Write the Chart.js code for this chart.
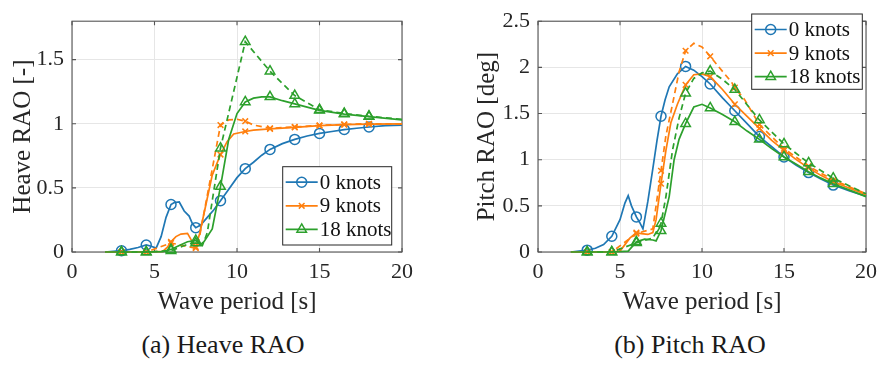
<!DOCTYPE html>
<html>
<head>
<meta charset="utf-8">
<script src="https://cdn.jsdelivr.net/npm/chart.js@4.4.1/dist/chart.umd.min.js"></script>
<style>
body { margin: 0; background: #fff; }
#page { position: relative; width: 884px; height: 365px; font-family: 'Liberation Serif', 'DejaVu Serif', serif; }
#page canvas { position: absolute; top: 0; }
.cap { position: absolute; top: 332px; width: 300px; font-size: 26px; line-height: 26px; text-align: center; color: #1a1a1a; }
</style>
</head>
<body>
<div id="page">
  <canvas id="heaveChart" width="430" height="320" style="left:0"></canvas>
  <canvas id="pitchChart" width="442" height="320" style="left:442px"></canvas>
  <div class="cap" style="left:73px">(a) Heave RAO</div>
  <div class="cap" style="left:540px">(b) Pitch RAO</div>
</div>
<script>
// periods where the markers sit
const markerPeriods = [3, 4.5, 6, 7.5, 9, 10.5, 12, 13.5, 15, 16.5, 18];
const speedLabels = ['0 knots', '9 knots', '18 knots'];
const colors = ['#1f77b4', '#ff7f0e', '#2ca02c'];
const markers = ['circle', 'crossRot', 'triangle'];
const markerSize = [5, 4, 5.5];

const xTicks = [0, 5, 10, 15, 20];
const heaveTicks = [0, 0.5, 1, 1.5];
const pitchTicks = [0, 0.5, 1, 1.5, 2, 2.5];

// heave RAO, solid curves  [period, value]
const heave0 = [[2,0],[3,0.01],[3.5,0.02],[4,0.035],[4.5,0.055],[4.8,0.045],[5.1,0.03],[5.4,0.12],[5.7,0.27],[6,0.37],[6.2,0.385],[6.5,0.39],[6.8,0.32],[7.1,0.28],[7.3,0.22],[7.5,0.19],[7.8,0.21],[8.2,0.27],[8.6,0.33],[9,0.40],[9.5,0.49],[10,0.58],[10.5,0.65],[11,0.70],[11.5,0.755],[12,0.80],[12.75,0.845],[13.5,0.878],[14.25,0.905],[15,0.925],[15.75,0.94],[16.5,0.955],[17.25,0.965],[18,0.975],[19,0.985],[20,0.99]];
const heave9 = [[2,0],[3,0],[4.5,0],[5.5,0.005],[5.8,0.04],[6,0.08],[6.3,0.12],[6.6,0.14],[7,0.145],[7.2,0.1],[7.5,0.04],[7.75,0.15],[8.15,0.39],[8.5,0.6],[9,0.76],[9.4,0.86],[9.8,0.92],[10.5,0.94],[11,0.95],[12,0.96],[13.5,0.972],[15,0.985],[16.5,0.993],[18,0.998],[20,1.0]];
const heave18 = [[2,0],[3,0],[4.5,0],[5.5,0.003],[6,0.02],[6.5,0.05],[7,0.08],[7.5,0.09],[7.8,0.06],[8,0.08],[8.5,0.18],[9,0.51],[9.5,0.88],[10,1.08],[10.5,1.17],[11,1.2],[11.5,1.21],[12,1.21],[12.75,1.18],[13.5,1.155],[14.25,1.13],[15,1.105],[16.5,1.076],[18,1.056],[20,1.03]];
// heave RAO, dashed curves
const heave9b = [[3,0],[4.5,0],[6,0.07],[7.5,0.03],[7.7,0.1],[9,0.99],[9.5,1.03],[10,1.035],[10.5,1.02],[11,0.99],[12,0.965],[13.5,0.975],[15,0.987],[16.5,0.995],[18,1.0],[20,1.0]];
const heave18b = [[3,0],[4.5,0],[6,0.01],[7,0.06],[7.5,0.07],[7.9,0.05],[8.2,0.15],[8.5,0.4],[9,0.81],[10.5,1.64],[12,1.41],[13.5,1.22],[15,1.11],[16.5,1.08],[18,1.058],[20,1.035]];

// pitch RAO, solid curves
const pitch0 = [[2,0],[3,0.02],[3.5,0.04],[4,0.08],[4.5,0.17],[5,0.35],[5.3,0.53],[5.5,0.61],[5.7,0.5],[6,0.38],[6.2,0.32],[6.4,0.25],[6.7,0.55],[7,0.9],[7.25,1.2],[7.5,1.47],[7.75,1.65],[8,1.79],[8.5,1.93],[9,2.01],[9.5,1.97],[10,1.9],[10.5,1.82],[11.25,1.67],[12,1.53],[12.75,1.39],[13.5,1.25],[14.25,1.14],[15,1.03],[15.75,0.94],[16.5,0.86],[17.25,0.79],[18,0.725],[19,0.66],[20,0.605]];
const pitch9 = [[2,0],[3,0],[4.5,0],[5,0.01],[5.3,0.08],[5.6,0.15],[6,0.21],[6.3,0.2],[6.7,0.19],[7,0.21],[7.2,0.35],[7.5,0.74],[7.8,1.1],[8.1,1.4],[8.5,1.6],[9,1.81],[9.5,1.92],[10,1.93],[10.5,1.9],[11.25,1.76],[12,1.6],[12.75,1.47],[13.5,1.34],[14.25,1.21],[15,1.1],[15.75,1.0],[16.5,0.91],[17.25,0.83],[18,0.76],[19,0.69],[20,0.62]];
const pitch18 = [[2,0],[3,0],[4.5,0],[5.5,0.01],[6,0.11],[6.5,0.14],[7,0.13],[7.2,0.12],[7.5,0.23],[7.8,0.45],[8,0.6],[8.3,1.0],[8.6,1.22],[9,1.39],[9.5,1.57],[10,1.6],[10.5,1.56],[11.25,1.49],[12,1.41],[12.75,1.31],[13.5,1.22],[14.25,1.12],[15,1.03],[15.75,0.95],[16.5,0.87],[17.25,0.8],[18,0.74],[19,0.67],[20,0.6]];
// pitch RAO, dashed curves
const pitch9b = [[3,0],[4.5,0],[6,0.2],[7,0.25],[7.5,0.88],[7.8,1.26],[8.2,1.6],[8.6,1.95],[9,2.18],[9.5,2.26],[10,2.22],[10.5,2.12],[11,2.01],[11.8,1.84],[12,1.78],[12.6,1.65],[13.5,1.38],[15,1.12],[16.5,0.93],[18,0.78],[20,0.63]];
const pitch18b = [[3,0],[4.5,0],[6,0.1],[7,0.15],[7.5,0.31],[7.8,0.6],[8.2,1.1],[8.6,1.45],[9,1.72],[9.5,1.88],[10,1.94],[10.5,1.96],[11.25,1.87],[12,1.76],[13.5,1.43],[15,1.17],[16.5,0.965],[18,0.8],[20,0.63]];

const serif = "'Liberation Serif', 'DejaVu Serif', serif";
const textColor = '#262626';
Chart.defaults.font.family = serif;
Chart.defaults.color = textColor;

const toPts = arr => arr.map(([x, y]) => ({ x: x, y: y }));

function lineSet(data, i, dashed, order) {
    return {
        data: toPts(data),
        borderColor: colors[i],
        borderWidth: 1.7,
        borderDash: dashed ? [6, 4] : [],
        pointStyle: markers[i],
        pointRadius: ctx => markerPeriods.includes(ctx.raw.x) ? markerSize[i] : 0,
        pointBorderColor: colors[i],
        pointBackgroundColor: 'rgba(0,0,0,0)',
        pointBorderWidth: 1.5,
        tension: 0,
        clip: false,
        order: order
    };
}

// frame around the plot area with inward ticks on every side
const axesBox = {
    id: 'axesBox',
    beforeDatasetsDraw(chart) {
        const { ctx, chartArea: a, scales } = chart;
        ctx.save();
        ctx.strokeStyle = '#555';
        ctx.lineWidth = 1.1;
        ctx.strokeRect(a.left, a.top, a.right - a.left, a.bottom - a.top);
        ctx.beginPath();
        scales.x.ticks.forEach(t => {
            const px = scales.x.getPixelForValue(t.value);
            ctx.moveTo(px, a.bottom); ctx.lineTo(px, a.bottom - 4);
            ctx.moveTo(px, a.top); ctx.lineTo(px, a.top + 4);
        });
        scales.y.ticks.forEach(t => {
            const py = scales.y.getPixelForValue(t.value);
            ctx.moveTo(a.left, py); ctx.lineTo(a.left + 4, py);
            ctx.moveTo(a.right, py); ctx.lineTo(a.right - 4, py);
        });
        ctx.stroke();
        ctx.restore();
    }
};

// boxed legend placed inside the axes
const boxLegend = {
    id: 'boxLegend',
    afterDraw(chart, args, opts) {
        const { ctx } = chart;
        const { left, top, width, height } = opts;
        ctx.save();
        ctx.fillStyle = '#fff';
        ctx.fillRect(left, top, width, height);
        ctx.strokeStyle = '#262626';
        ctx.lineWidth = 1;
        ctx.strokeRect(left, top, width, height);
        ctx.font = '21px ' + serif;
        ctx.textBaseline = 'middle';
        speedLabels.forEach((label, i) => {
            const y = top + 15.5 + i * 23.6;
            ctx.strokeStyle = colors[i];
            ctx.lineWidth = 1.7;
            ctx.beginPath();
            ctx.moveTo(left + 3, y);
            ctx.lineTo(left + 35, y);
            ctx.stroke();
            ctx.fillStyle = 'rgba(0,0,0,0)';
            ctx.lineWidth = 1.5;
            Chart.helpers.drawPoint(ctx, { pointStyle: markers[i], radius: markerSize[i], borderWidth: 1.5, rotation: 0 }, left + 19, y);
            ctx.fillStyle = '#111';
            ctx.fillText(label, left + 37, y + 1);
        });
        ctx.restore();
    }
};

function makeChart(id, datasets, yMax, yTicks, yTitle, yWidth, titlePad, rightPad, legendBox) {
    new Chart(document.getElementById(id), {
        type: 'line',
        data: { datasets: datasets },
        options: {
            responsive: false,
            animation: false,
            events: [],
            layout: { padding: { left: 0, top: 9, right: rightPad, bottom: 0 } },
            scales: {
                x: {
                    type: 'linear',
                    min: 0,
                    max: 20,
                    afterBuildTicks: s => { s.ticks = xTicks.map(v => ({ value: v })); },
                    afterFit: s => { s.height = 68; },
                    grid: { color: '#e6e6e6', drawTicks: false },
                    border: { display: false },
                    ticks: { padding: 7, font: { size: 22 }, color: textColor, callback: v => String(v) },
                    title: { display: true, text: 'Wave period [s]', font: { size: 25 }, color: textColor, padding: { top: 0, bottom: 3 } }
                },
                y: {
                    type: 'linear',
                    min: 0,
                    max: yMax,
                    afterBuildTicks: s => { s.ticks = yTicks.map(v => ({ value: v })); },
                    afterFit: s => { s.width = yWidth; },
                    grid: { color: '#e6e6e6', drawTicks: false },
                    border: { display: false },
                    ticks: { padding: 8, font: { size: 22 }, color: textColor, callback: v => String(v) },
                    title: { display: true, text: yTitle, font: { size: 25 }, color: textColor, padding: { top: titlePad, bottom: 0 } }
                }
            },
            plugins: {
                legend: { display: false },
                tooltip: { enabled: false },
                boxLegend: legendBox
            }
        },
        plugins: [axesBox, boxLegend]
    });
}

makeChart('heaveChart', [
    lineSet(heave0, 0, false, 6),
    lineSet(heave9, 1, false, 4),
    lineSet(heave9b, 1, true, 3),
    lineSet(heave18, 2, false, 2),
    lineSet(heave18b, 2, true, 1)
], 1.8, heaveTicks, 'Heave RAO [-]', 72, 8, 28, { left: 282.7, top: 166.7, width: 109, height: 78.3 });

makeChart('pitchChart', [
    lineSet(pitch0, 0, false, 6),
    lineSet(pitch9, 1, false, 4),
    lineSet(pitch9b, 1, true, 3),
    lineSet(pitch18, 2, false, 2),
    lineSet(pitch18b, 2, true, 1)
], 2.5, pitchTicks, 'Pitch RAO [deg]', 96, 30, 15, { left: 309.7, top: 14, width: 110.6, height: 75.3 });
</script>
</body>
</html>
